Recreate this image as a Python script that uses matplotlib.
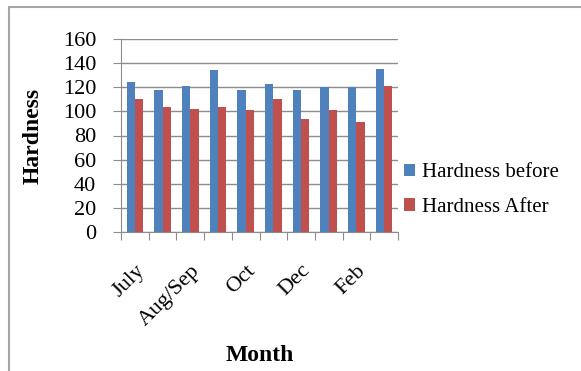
import matplotlib

matplotlib.use("Agg")
import matplotlib.pyplot as plt
import numpy as np
from matplotlib.patches import Rectangle

months = ["July", "Aug", "Aug/Sep", "Sep", "Oct", "Nov", "Dec", "Jan", "Feb", "Mar"]
shown_labels = ["July", "", "Aug/Sep", "", "Oct", "", "Dec", "", "Feb", ""]
hardness_before = [124, 118, 121, 134, 118, 123, 118, 120, 120, 135]
hardness_after = [110, 104, 102, 104, 101, 110, 94, 101, 91, 121]
y_ticks = [0, 20, 40, 60, 80, 100, 120, 140, 160]

plt.rcParams["font.family"] = ["Liberation Serif", "DejaVu Serif"]

grey = "#8c8c8c"
fig = plt.figure(figsize=(5.81, 3.71), dpi=100)
ax = fig.add_axes([121 / 581, 1 - 232 / 371, 277 / 581, 193 / 371])

x = np.arange(len(months))
w = 0.3
ax.bar(x - w / 2, hardness_before, w, color="#4F81BD", label="Hardness before", zorder=3)
ax.bar(x + w / 2, hardness_after, w, color="#C0504D", label="Hardness After", zorder=3)

ax.set_xlim(-0.5, len(months) - 0.5)
ax.set_ylim(0, 160)
ax.set_yticks(y_ticks)
ax.tick_params(axis="y", labelsize=16, length=6, color=grey, pad=12)
ax.set_xticks(np.arange(len(months) + 1) - 0.5)
ax.set_xticklabels([])
ax.tick_params(axis="x", which="major", length=6, color=grey)
ax.set_xticks(x, minor=True)
ax.set_xticklabels(shown_labels, minor=True, rotation=45, ha="right",
                   rotation_mode="anchor", fontsize=16)
ax.tick_params(axis="x", which="minor", length=0, pad=21)

ax.yaxis.grid(True, color=grey, linewidth=1, zorder=0)
for s in ["top", "right"]:
    ax.spines[s].set_visible(False)
for s in ["left", "bottom"]:
    ax.spines[s].set_color(grey)

ax.set_ylabel("Hardness", fontsize=17, fontweight="bold")
ax.yaxis.set_label_coords(-0.28, 0.5)
ax.set_xlabel("Month", fontsize=17, fontweight="bold")
ax.xaxis.set_label_coords(0.5, -0.585)

fig.legend(loc="center left", bbox_to_anchor=(404 / 581, 1 - 190 / 371),
           frameon=False, fontsize=15, handlelength=0.55, handleheight=0.55,
           handletextpad=0.3, labelspacing=0.75, borderpad=0, borderaxespad=0)

fig.patches.append(Rectangle((9 / 581, -0.1), 1.2, 1 - 7 / 371 + 0.1,
                             transform=fig.transFigure, fill=False,
                             edgecolor="#a6a6a6", linewidth=1.5))

fig.savefig("out.png", dpi=100)
